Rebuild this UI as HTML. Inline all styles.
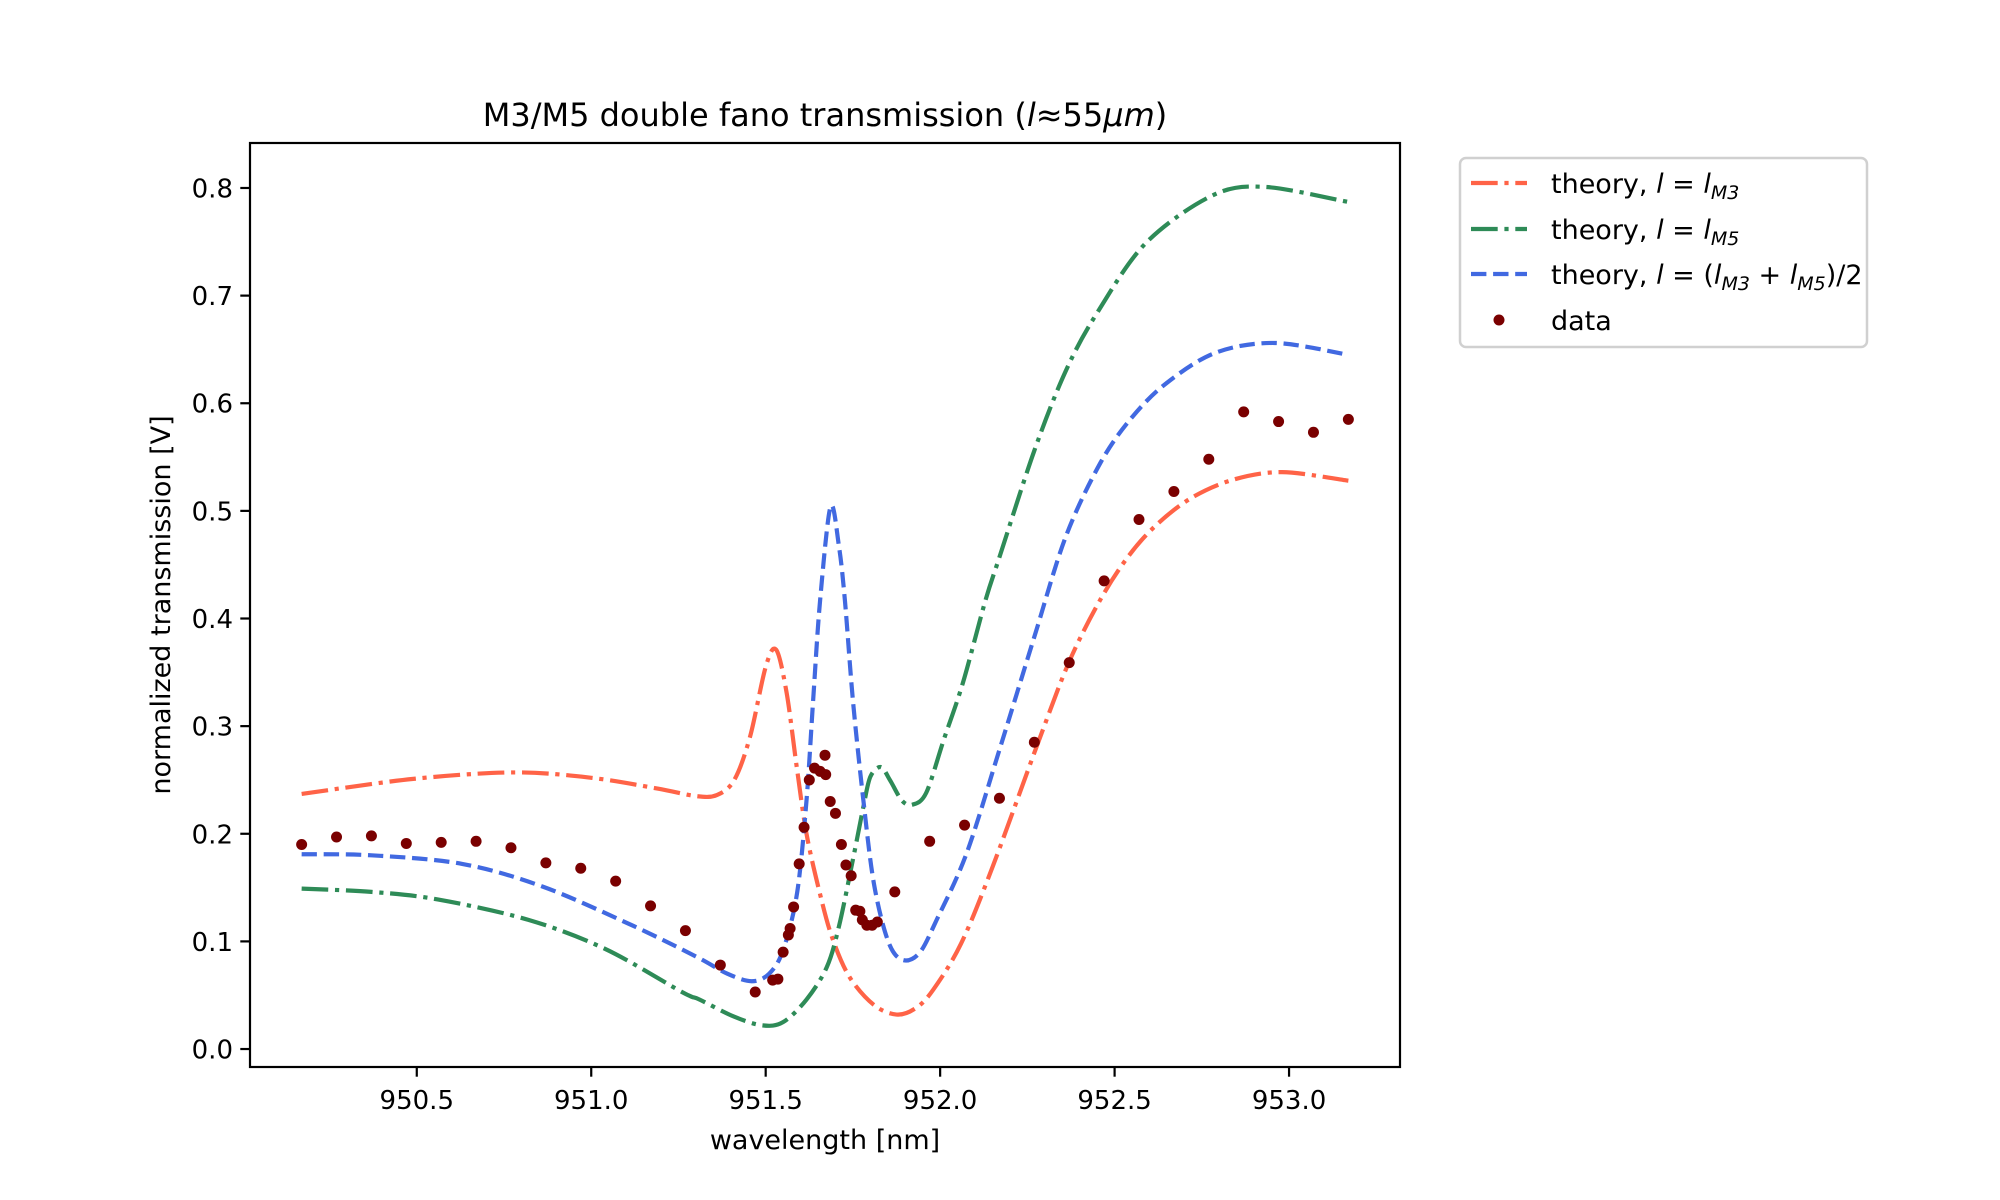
<!DOCTYPE html>
<html><head><meta charset="utf-8">
<style>
html,body{margin:0;padding:0;background:#fff;}
svg{display:block;font-family:"DejaVu Sans","Liberation Sans",sans-serif;}
</style></head>
<body>
<svg id="chart" width="2000" height="1200" viewBox="0 0 2000 1200" xmlns="http://www.w3.org/2000/svg">
<rect x="0" y="0" width="2000" height="1200" fill="#fff"/>
<text x="825" y="126" font-size="32" text-anchor="middle">M3/M5 double fano transmission (<tspan font-style="italic">l</tspan>≈55<tspan font-style="italic">μm</tspan>)</text>
<g id="plot"></g>
<rect x="250" y="143" width="1150" height="924" fill="none" stroke="#000" stroke-width="2.2"/>
<g id="xticks"></g>
<g id="yticks"></g>
<text x="825" y="1149" font-size="27" text-anchor="middle">wavelength [nm]</text>
<text transform="translate(170,605) rotate(-90)" font-size="27" text-anchor="middle">normalized transmission [V]</text>
<g>
<rect x="1460" y="158" width="407" height="189" rx="6" fill="#fff" stroke="#d0d0d0" stroke-width="2.5"/>
<line x1="1471" y1="183" x2="1527" y2="183" stroke="#ff6347" stroke-width="4.2" stroke-dasharray="26.7 6.7 4.2 6.7"/>
<text x="1551" y="193" font-size="27">theory, <tspan font-style="italic">l</tspan> = <tspan font-style="italic">l</tspan><tspan font-style="italic" font-size="19" dy="6">M3</tspan></text>
<line x1="1471" y1="229" x2="1527" y2="229" stroke="#2e8b57" stroke-width="4.2" stroke-dasharray="26.7 6.7 4.2 6.7"/>
<text x="1551" y="239" font-size="27">theory, <tspan font-style="italic">l</tspan> = <tspan font-style="italic">l</tspan><tspan font-style="italic" font-size="19" dy="6">M5</tspan></text>
<line x1="1471" y1="274" x2="1527" y2="274" stroke="#4169e1" stroke-width="4.2" stroke-dasharray="15.4 6.7"/>
<text x="1551" y="284" font-size="27">theory, <tspan font-style="italic">l</tspan> = (<tspan font-style="italic">l</tspan><tspan font-style="italic" font-size="19" dy="6">M3</tspan><tspan dy="-6"> + </tspan><tspan font-style="italic">l</tspan><tspan font-style="italic" font-size="19" dy="6">M5</tspan><tspan dy="-6">)/2</tspan></text>
<circle cx="1499" cy="320" r="5.5" fill="#7a0000"/>
<text x="1551" y="330" font-size="27">data</text>
</g>
</svg>
<script>
const xTicks = [950.5, 951.0, 951.5, 952.0, 952.5, 953.0];
const xTickLabels = ["950.5","951.0","951.5","952.0","952.5","953.0"];
const yTicks = [0.0,0.1,0.2,0.3,0.4,0.5,0.6,0.7,0.8];
const yTickLabels = ["0.0","0.1","0.2","0.3","0.4","0.5","0.6","0.7","0.8"];

const m3X = [950.17,950.49,950.78,951.0,951.19,951.30,951.36,951.41,951.455,951.50,951.53,951.56,951.589,951.617,951.655,951.69,951.74,951.81,951.875,951.93,951.98,952.06,952.15,952.28,952.37,952.46,952.54,952.62,952.72,952.84,952.98,953.17];
const m3Y = [0.237,0.251,0.257,0.252,0.242,0.235,0.236,0.25,0.29,0.355,0.371,0.331,0.262,0.20,0.145,0.104,0.067,0.041,0.032,0.038,0.055,0.098,0.169,0.284,0.360,0.418,0.458,0.487,0.512,0.529,0.536,0.528];

const m5X = [950.17,950.37,950.56,950.82,951.04,951.26,951.31,951.41,951.49,951.55,951.617,951.675,951.71,951.75,951.78,951.80,951.83,951.856,951.89,951.92,951.96,952.01,952.065,952.13,952.17,952.27,952.36,952.45,952.59,952.78,952.93,953.17];
const m5Y = [0.149,0.146,0.139,0.120,0.093,0.053,0.046,0.030,0.022,0.025,0.046,0.076,0.114,0.176,0.225,0.253,0.262,0.25,0.231,0.227,0.238,0.287,0.340,0.417,0.457,0.556,0.630,0.684,0.749,0.793,0.801,0.787];

const avgX = [950.17,950.37,950.63,950.86,951.11,951.30,951.39,951.46,951.51,951.55,951.59,951.617,951.636,951.656,951.686,951.71,951.727,951.75,951.78,951.81,951.85,951.89,951.94,951.99,952.076,952.17,952.27,952.36,952.46,952.55,952.65,952.79,952.96,953.17];
const avgY = [0.181,0.180,0.172,0.151,0.116,0.086,0.070,0.063,0.070,0.092,0.145,0.231,0.324,0.417,0.504,0.467,0.417,0.324,0.231,0.154,0.101,0.083,0.089,0.12,0.182,0.278,0.383,0.476,0.545,0.587,0.619,0.647,0.656,0.645];

const dataX = [950.17,950.27,950.37,950.47,950.57,950.67,950.77,950.87,950.97,951.07,951.17,951.27,951.37,951.47,951.52,951.535,951.55,951.565,951.57,951.58,951.596,951.61,951.625,951.64,951.656,951.672,951.67,951.685,951.70,951.717,951.73,951.745,951.758,951.77,951.777,951.79,951.805,951.82,951.87,951.97,952.07,952.17,952.27,952.37,952.47,952.57,952.67,952.77,952.87,952.97,953.07,953.17];
const dataY = [0.19,0.197,0.198,0.191,0.192,0.193,0.187,0.173,0.168,0.156,0.133,0.110,0.078,0.053,0.064,0.065,0.090,0.106,0.112,0.132,0.172,0.206,0.25,0.261,0.258,0.255,0.273,0.23,0.219,0.19,0.171,0.161,0.129,0.128,0.12,0.115,0.115,0.118,0.146,0.193,0.208,0.233,0.285,0.359,0.435,0.492,0.518,0.548,0.592,0.583,0.573,0.585];

const NS = "http://www.w3.org/2000/svg";
const X0 = 250, X1 = 1400, Y0 = 143, Y1 = 1067;
const xMin = 950.022, xMax = 953.318, yMin = -0.0167, yMax = 0.8418;
function sx(v){ return X0 + (v - xMin) / (xMax - xMin) * (X1 - X0); }
function sy(v){ return Y1 - (v - yMin) / (yMax - yMin) * (Y1 - Y0); }

const plot = document.getElementById('plot');
function smoothPath(xs, ys){
  const p = xs.map((x,i)=>[sx(x), sy(ys[i])]);
  let d = "M" + p[0][0].toFixed(2) + "," + p[0][1].toFixed(2);
  for (let i=0;i<p.length-1;i++){
    const a = p[i-1]||p[i], b=p[i], c=p[i+1], e=p[i+2]||p[i+1];
    const t = 0.16;
    const c1 = [b[0]+(c[0]-a[0])*t, b[1]+(c[1]-a[1])*t];
    const c2 = [c[0]-(e[0]-b[0])*t, c[1]-(e[1]-b[1])*t];
    d += " C"+c1[0].toFixed(2)+","+c1[1].toFixed(2)+" "+c2[0].toFixed(2)+","+c2[1].toFixed(2)+" "+c[0].toFixed(2)+","+c[1].toFixed(2);
  }
  return d;
}
function addLine(xs, ys, color, dash, name){
  const path = document.createElementNS(NS,'path');
  path.setAttribute('d', smoothPath(xs, ys));
  path.setAttribute('fill','none');
  path.setAttribute('stroke', color);
  path.setAttribute('stroke-width','4.2');
  path.setAttribute('stroke-dasharray', dash);
  
  
  plot.appendChild(path);
}
addLine(m3X, m3Y, '#ff6347', '26.7 6.7 4.2 6.7', 'theory-m3-line');
addLine(m5X, m5Y, '#2e8b57', '26.7 6.7 4.2 6.7', 'theory-m5-line');
addLine(avgX, avgY, '#4169e1', '15.4 6.7', 'theory-average-line');
dataX.forEach((x,i)=>{
  const c = document.createElementNS(NS,'circle');
  c.setAttribute('cx', sx(x).toFixed(2));
  c.setAttribute('cy', sy(dataY[i]).toFixed(2));
  c.setAttribute('r','5.5');
  c.setAttribute('fill','#7a0000');
  
  
  plot.appendChild(c);
});

const xg = document.getElementById('xticks');
xTicks.forEach((v,i)=>{
  const l = document.createElementNS(NS,'line');
  l.setAttribute('x1', sx(v)); l.setAttribute('x2', sx(v));
  l.setAttribute('y1', Y1); l.setAttribute('y2', Y1+9.7);
  l.setAttribute('stroke','#000'); l.setAttribute('stroke-width','2.2');
  
  
  xg.appendChild(l);
  const t = document.createElementNS(NS,'text');
  t.setAttribute('x', sx(v)); t.setAttribute('y', Y1+42);
  t.setAttribute('font-size','26'); t.setAttribute('text-anchor','middle');
  t.textContent = xTickLabels[i];
  
  
  xg.appendChild(t);
});
const yg = document.getElementById('yticks');
yTicks.forEach((v,i)=>{
  const l = document.createElementNS(NS,'line');
  l.setAttribute('x1', X0-9.7); l.setAttribute('x2', X0);
  l.setAttribute('y1', sy(v)); l.setAttribute('y2', sy(v));
  l.setAttribute('stroke','#000'); l.setAttribute('stroke-width','2.2');
  
  
  yg.appendChild(l);
  const t = document.createElementNS(NS,'text');
  t.setAttribute('x', X0-17); t.setAttribute('y', sy(v)+9.5);
  t.setAttribute('font-size','26'); t.setAttribute('text-anchor','end');
  t.textContent = yTickLabels[i];
  
  
  yg.appendChild(t);
});
</script>
</body></html>
